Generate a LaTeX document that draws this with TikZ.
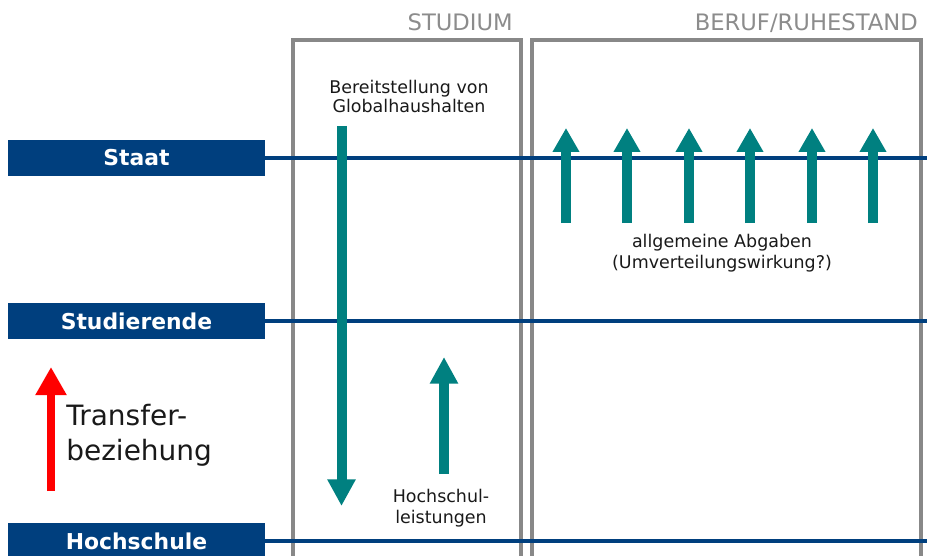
\documentclass[tikz,border=0pt]{standalone}
\usepackage{fontspec}
\setmainfont{DejaVu Sans}
\usetikzlibrary{arrows.meta}
\definecolor{dblue}{RGB}{0,63,126}
\definecolor{teal2}{RGB}{0,128,128}
\definecolor{boxgray}{RGB}{136,136,136}
\definecolor{labgray}{RGB}{140,140,140}
\definecolor{txt}{RGB}{25,25,25}
\tikzset{
  actor/.style={fill=dblue, text=white, font=\fontsize{16.4}{19}\selectfont\bfseries,
    minimum width=192.75pt, minimum height=27pt, inner sep=0pt, anchor=center},
  level/.style={draw=dblue, line width=2.6pt},
  phase/.style={draw=boxgray, line width=3pt},
  phaselabel/.style={text=labgray, font=\fontsize{17}{19}\selectfont, anchor=base east, inner sep=0pt},
  flowarrow/.style={draw=teal2, line width=7.5pt, -{Triangle[width=20pt,length=20pt]}},
  taxarrow/.style={draw=teal2, line width=8pt, -{Triangle[width=19pt,length=18pt]}},
  legendarrow/.style={draw=red, line width=6pt, -{Triangle[width=22pt,length=21pt]}},
  note/.style={text=txt, align=center, inner sep=0pt}
}
\begin{document}
\begin{tikzpicture}[x=0.75pt,y=-0.75pt]
\useasboundingbox (0,0) rectangle (927,556);
% phase boxes
\draw[phase] (293,40) rectangle (521,620);
\draw[phase] (532,40) rectangle (921,620);
\node[phaselabel] (lstud) at (513,31) {STUDIUM};
\node[phaselabel] (lberuf) at (918,31) {BERUF/RUHESTAND};
% actors
\node[actor] (staat) at (136.5,158) {Staat};
\node[actor] (stud) at (136.5,321) {Studierende};
\node[actor] (hs) at (136.5,541) {Hochschule};
\coordinate (staatR) at (927,158);
\coordinate (studR) at (927,321);
\coordinate (hsR) at (927,541);
\draw[level] (staat.east) -- (staatR);
\draw[level] (stud.east) -- (studR);
\draw[level] (hs.east) -- (hsR);
% texts (base anchor = baseline of last line)
\node[note, font=\fontsize{13.1}{14.25}\selectfont, anchor=base] (bereit) at (409,113) {Bereitstellung von\\Globalhaushalten};
\node[note, font=\fontsize{13.1}{15.75}\selectfont, anchor=base] (hsl) at (441,523) {Hochschul-\\leistungen};
\node[note, font=\fontsize{13.1}{15.75}\selectfont, anchor=base] (abg) at (722,268) {allgemeine Abgaben\\(Umverteilungswirkung?)};
\node[text=txt, align=left, inner sep=0pt, font=\fontsize{21}{26.25}\selectfont, anchor=base west] (transfer) at (66,460) {Transfer-\\beziehung};
% arrows
\coordinate (d1) at (341.5,126); \coordinate (d2) at (341.5,506);
\draw[flowarrow] (d1) -- (d2);
\coordinate (u1) at (444,474); \coordinate (u2) at (444,357);
\draw[flowarrow] (u1) -- (u2);
\foreach \x [count=\i] in {566,627,689,750,812,873}{
  \coordinate (ta\i) at (\x,223); \coordinate (tb\i) at (\x,128);
  \draw[taxarrow] (ta\i) -- (tb\i);
}
\coordinate (r1) at (51,491); \coordinate (r2) at (51,367);
\draw[legendarrow] (r1) -- (r2);
\end{tikzpicture}
\end{document}
